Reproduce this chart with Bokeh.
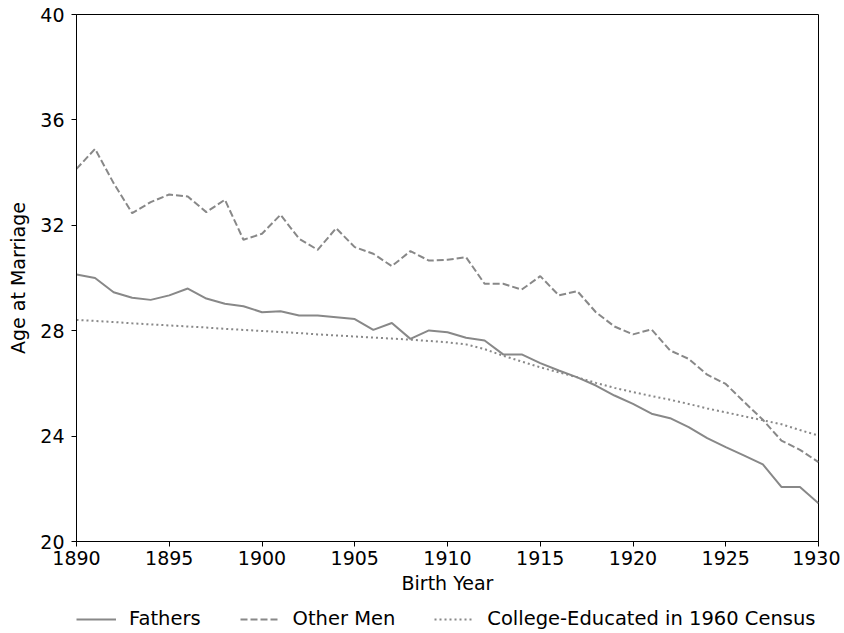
from bokeh.plotting import figure
from bokeh.layouts import column
from bokeh.models import Legend, LegendItem, FixedTicker, Range1d
from bokeh.embed import file_html
from bokeh.resources import INLINE

years = list(range(1890, 1931))
fathers = [30.13, 30.00, 29.46, 29.25, 29.17, 29.34, 29.60, 29.22, 29.02, 28.93,
           28.70, 28.74, 28.58, 28.58, 28.51, 28.44, 28.03, 28.29, 27.69, 28.01,
           27.94, 27.73, 27.63, 27.10, 27.10, 26.77, 26.49, 26.23, 25.92, 25.54,
           25.22, 24.85, 24.68, 24.34, 23.92, 23.58, 23.26, 22.93, 22.07, 22.07,
           21.45]
other_men = [34.14, 34.90, 33.60, 32.46, 32.88, 33.17, 33.09, 32.50, 32.97, 31.45,
             31.68, 32.40, 31.49, 31.07, 31.89, 31.17, 30.92, 30.45, 31.02, 30.66,
             30.69, 30.79, 29.78, 29.78, 29.56, 30.07, 29.34, 29.50, 28.70, 28.16,
             27.86, 28.05, 27.25, 26.93, 26.33, 25.98, 25.29, 24.62, 23.83, 23.48,
             23.01]
college = [28.41, 28.37, 28.33, 28.28, 28.24, 28.20, 28.16, 28.12, 28.07, 28.03,
           27.99, 27.95, 27.91, 27.86, 27.82, 27.78, 27.74, 27.70, 27.66, 27.61,
           27.56, 27.48, 27.30, 27.05, 26.83, 26.61, 26.42, 26.23, 26.02, 25.83,
           25.67, 25.52, 25.38, 25.22, 25.05, 24.90, 24.75, 24.60, 24.45, 24.23,
           24.02]
series_labels = ["Fathers", "Other Men", "College-Educated in 1960 Census"]
x_ticks = [1890, 1895, 1900, 1905, 1910, 1915, 1920, 1925, 1930]
y_ticks = [20, 24, 28, 32, 36, 40]

FONT = "DejaVu Sans"
FS = "19px"
LINE = "#888888"
STYLES = [dict(line_color=LINE, line_width=2),
          dict(line_color=LINE, line_width=2, line_dash="7 3"),
          dict(line_color=LINE, line_width=2, line_dash="2 3")]

# ---- main chart ----
p = figure(width=840, height=600, output_backend="svg", toolbar_location=None,
           x_range=Range1d(1890, 1930), y_range=Range1d(20, 40),
           min_border_left=76, min_border_right=22, min_border_top=14,
           min_border_bottom=59)
p.background_fill_color = "white"
p.border_fill_color = "white"
p.outline_line_color = "black"
p.outline_line_width = 1
p.xgrid.visible = False
p.ygrid.visible = False

for ys, st in zip([fathers, other_men, college], STYLES):
    p.line(years, ys, **st)

for ax in (p.xaxis[0], p.yaxis[0]):
    ax.minor_tick_line_color = None
    ax.major_tick_in = 0
    ax.major_tick_out = 5
    ax.major_tick_line_color = "black"
    ax.axis_line_color = "black"
    ax.major_label_text_font = FONT
    ax.major_label_text_font_size = FS
    ax.major_label_text_color = "black"
    ax.axis_label_text_font = FONT
    ax.axis_label_text_font_size = FS
    ax.axis_label_text_font_style = "normal"
    ax.axis_label_text_color = "black"

p.xaxis.ticker = FixedTicker(ticks=x_ticks)
p.yaxis.ticker = FixedTicker(ticks=y_ticks)
p.xaxis.axis_label = "Birth Year"
p.yaxis.axis_label = "Age at Marriage"
p.xaxis.major_label_standoff = 4
p.xaxis.axis_label_standoff = 4
p.yaxis.major_label_standoff = 7
p.yaxis.axis_label_standoff = 8

# ---- legend strip below ----
lg = figure(width=840, height=32, output_backend="svg", toolbar_location=None,
            x_range=Range1d(0, 1), y_range=Range1d(0, 1),
            x_axis_location=None, y_axis_location=None,
            min_border=0, outline_line_color=None)
lg.background_fill_color = "white"
lg.border_fill_color = "white"
lg.xgrid.visible = False
lg.ygrid.visible = False
rs = [lg.line(years, ys, **st) for ys, st in zip([fathers, other_men, college], STYLES)]

legend = Legend(items=[LegendItem(label=lab, renderers=[r]) for lab, r in zip(series_labels, rs)],
                orientation="horizontal", location=(0, 2),
                border_line_color=None, background_fill_alpha=0,
                label_text_font=FONT, label_text_font_size="19.5px",
                label_text_color="black",
                glyph_width=40, glyph_height=18, label_standoff=13,
                spacing=39, padding=0, margin=0)
lg.add_layout(legend, "center")

layout = column(p, lg, spacing=0)
open("out.html", "w").write(file_html(layout, INLINE))
